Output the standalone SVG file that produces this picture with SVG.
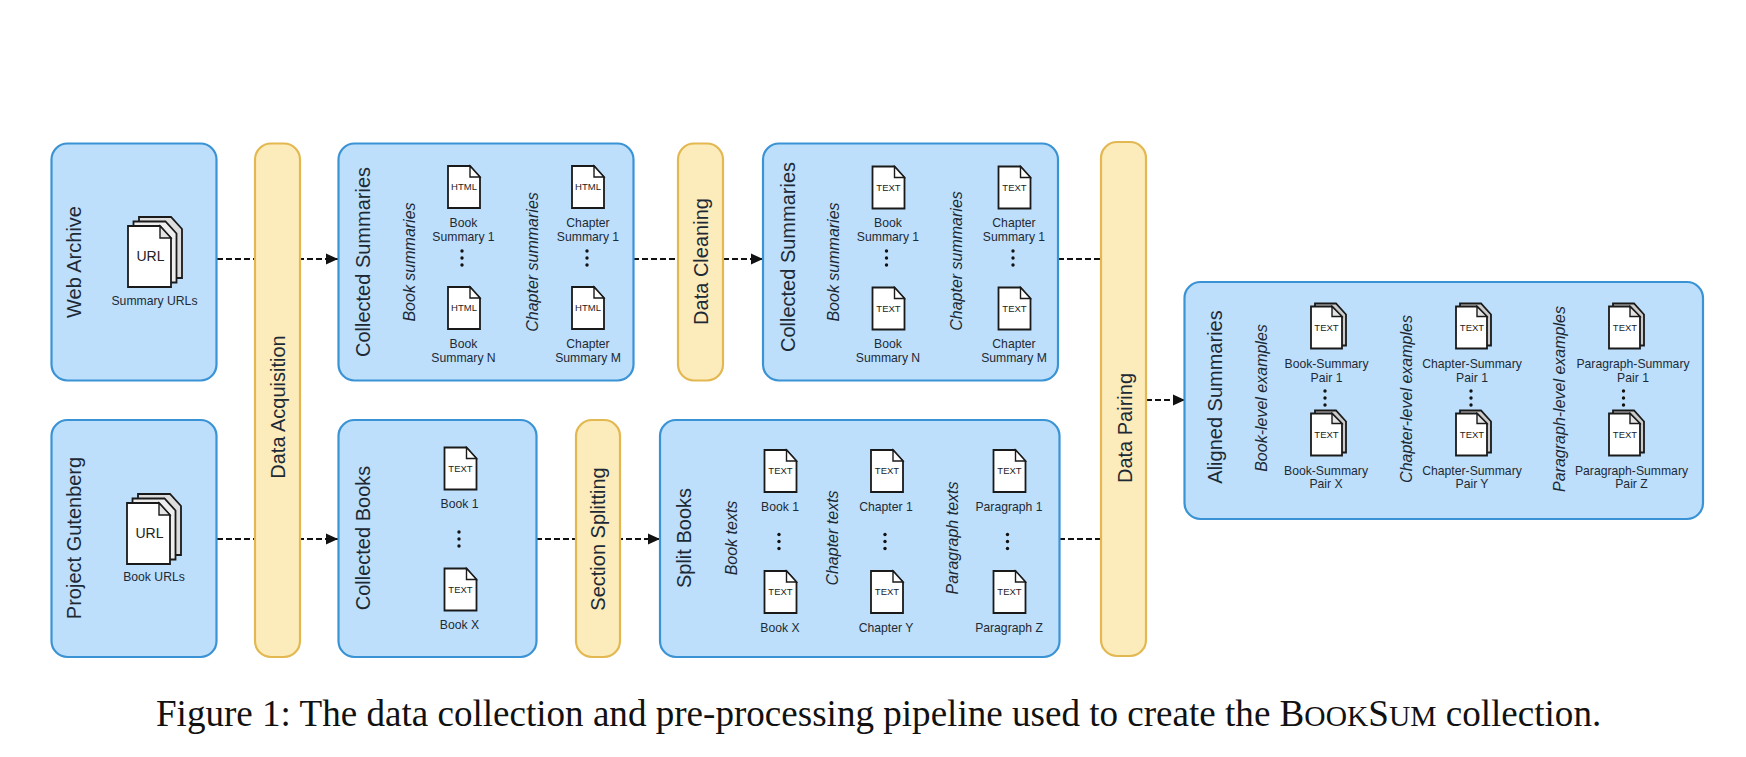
<svg xmlns="http://www.w3.org/2000/svg" width="1746" height="757" viewBox="0 0 1746 757">
<style>
text{font-family:"Liberation Sans",Arial,sans-serif;fill:#1d2a35;text-anchor:middle}
.box{fill:#bddffc;stroke:#3a93d4;stroke-width:2.2}
.bar{fill:#fcebbb;stroke:#e3b850;stroke-width:2.2}
.t{font-size:20px}
.i{font-size:16px;font-style:italic}
.s{font-size:12.2px}
.d{font-size:9.500px;fill:#222}
.u{font-size:14px;fill:#222}
.pg{fill:#fff;stroke:#1a1a1a;stroke-width:1.8}
.fold{fill:#e4e4e4;stroke:#1a1a1a;stroke-width:1.4}
.conn{fill:none;stroke:#111;stroke-width:2;stroke-dasharray:6 3}
.cap{font-family:"Liberation Serif","Times New Roman",serif;font-size:37.100px;fill:#111;text-anchor:start}
</style>
<defs>
<marker id="arr" markerUnits="userSpaceOnUse" markerWidth="13" markerHeight="12" refX="12" refY="6" orient="auto"><path d="M0 0.500L12 6L0 11.500Z" fill="#111"/></marker>
<g id="doc"><path class="pg" d="M0 0H22L32 11V42H0Z"/><path class="fold" d="M22 0V11H32Z" style="fill:#fff"/></g>
<g id="stack"><path class="pg" style="fill:#ccc" d="M4 -3H25L35 8V39H4Z"/><path class="pg" d="M0 0H21L31 10V42H0Z"/><path class="fold" d="M21 0V10H31Z"/></g>
<g id="big"><path class="pg" style="fill:#ddd" d="M11 -9H43L54 3V52H11Z"/><path class="pg" style="fill:#eee" d="M5.500 -4.500H37.500L48.500 7.500V56.500H5.500Z"/><path class="pg" d="M0 0H32L43 12V61H0Z"/><path class="fold" d="M32 0V12H43Z"/></g>
<g id="dots"><circle cy="-7" r="1.700" fill="#111"/><circle r="1.700" fill="#111"/><circle cy="7" r="1.700" fill="#111"/></g>
</defs>
<rect width="1746" height="757" fill="#fff"/>
<g id="connectors">
<path class="conn" d="M217 259H338" marker-end="url(#arr)"/>
<path class="conn" d="M217 539H338" marker-end="url(#arr)"/>
<path class="conn" d="M633 259H763" marker-end="url(#arr)"/>
<path class="conn" d="M536 539H660" marker-end="url(#arr)"/>
<path class="conn" d="M1058 259H1101"/>
<path class="conn" d="M1059 539H1101"/>
<path class="conn" d="M1146 400H1185" marker-end="url(#arr)"/>
</g>
<g id="web-archive">
<rect class="box" x="51.500" y="143.500" width="165" height="237" rx="16"/>
<text class="t" transform="translate(74,262) rotate(-90)" dy=".35em">Web Archive</text>
<use href="#big" x="128" y="226"/>
<text class="u" x="150.500" y="256.500" dy=".35em">URL</text>
<text class="s" x="154.500" y="300.500" dy=".35em">Summary URLs</text>
</g>
<g id="project-gutenberg">
<rect class="box" x="51.500" y="420" width="165" height="237" rx="16"/>
<text class="t" transform="translate(74,538) rotate(-90)" dy=".35em">Project Gutenberg</text>
<use href="#big" x="127" y="503"/>
<text class="u" x="149.500" y="533.500" dy=".35em">URL</text>
<text class="s" x="154" y="577" dy=".35em">Book URLs</text>
</g>
<g id="data-acquisition">
<rect class="bar" x="255" y="143.500" width="45" height="513.500" rx="16"/>
<text class="t" transform="translate(278,407) rotate(-90)" dy=".35em">Data Acquisition</text>
</g>
<g id="collected-summaries-html">
<rect class="box" x="338.500" y="143.500" width="295" height="237" rx="16"/>
<text class="t" transform="translate(363,262) rotate(-90)" dy=".35em">Collected Summaries</text>
<text class="i" transform="translate(409,262) rotate(-90)" dy=".35em">Book summaries</text>
<text class="i" transform="translate(532,262) rotate(-90)" dy=".35em">Chapter summaries</text>
<use href="#doc" x="448" y="166"/><text class="d" x="464" y="187" dy=".35em">HTML</text>
<use href="#doc" x="572" y="166"/><text class="d" x="588" y="187" dy=".35em">HTML</text>
<text class="s" x="463.500" y="223" dy=".35em">Book</text><text class="s" x="463.500" y="237" dy=".35em">Summary 1</text>
<text class="s" x="588" y="223" dy=".35em">Chapter</text><text class="s" x="588" y="237" dy=".35em">Summary 1</text>
<use href="#dots" x="462" y="258"/><use href="#dots" x="587" y="258"/>
<use href="#doc" x="448" y="287"/><text class="d" x="464" y="308" dy=".35em">HTML</text>
<use href="#doc" x="572" y="287"/><text class="d" x="588" y="308" dy=".35em">HTML</text>
<text class="s" x="463.500" y="344" dy=".35em">Book</text><text class="s" x="463.500" y="358" dy=".35em">Summary N</text>
<text class="s" x="588" y="344" dy=".35em">Chapter</text><text class="s" x="588" y="358" dy=".35em">Summary M</text>
</g>
<g id="data-cleaning">
<rect class="bar" x="678" y="143.500" width="45" height="237" rx="16"/>
<text class="t" transform="translate(701,261.500) rotate(-90)" dy=".35em">Data Cleaning</text>
</g>
<g id="collected-summaries-text">
<rect class="box" x="763" y="143.500" width="295" height="237" rx="16"/>
<text class="t" transform="translate(788,257) rotate(-90)" dy=".35em">Collected Summaries</text>
<text class="i" transform="translate(833,262) rotate(-90)" dy=".35em">Book summaries</text>
<text class="i" transform="translate(956.500,261) rotate(-90)" dy=".35em">Chapter summaries</text>
<use href="#doc" x="872.500" y="166.500"/><text class="d" x="888.500" y="187.500" dy=".35em">TEXT</text>
<use href="#doc" x="998.500" y="166.500"/><text class="d" x="1014.500" y="187.500" dy=".35em">TEXT</text>
<text class="s" x="888" y="223" dy=".35em">Book</text><text class="s" x="888" y="237" dy=".35em">Summary 1</text>
<text class="s" x="1014" y="223" dy=".35em">Chapter</text><text class="s" x="1014" y="237" dy=".35em">Summary 1</text>
<use href="#dots" x="886.500" y="258"/><use href="#dots" x="1013" y="258"/>
<use href="#doc" x="872.500" y="287.500"/><text class="d" x="888.500" y="308.500" dy=".35em">TEXT</text>
<use href="#doc" x="998.500" y="287.500"/><text class="d" x="1014.500" y="308.500" dy=".35em">TEXT</text>
<text class="s" x="888" y="344" dy=".35em">Book</text><text class="s" x="888" y="358" dy=".35em">Summary N</text>
<text class="s" x="1014" y="344" dy=".35em">Chapter</text><text class="s" x="1014" y="358" dy=".35em">Summary M</text>
</g>
<g id="data-pairing">
<rect class="bar" x="1101" y="142" width="45" height="514" rx="16"/>
<text class="t" transform="translate(1125,428) rotate(-90)" dy=".35em">Data Pairing</text>
</g>
<g id="collected-books">
<rect class="box" x="338.500" y="420" width="198" height="237" rx="16"/>
<text class="t" transform="translate(363,538) rotate(-90)" dy=".35em">Collected Books</text>
<use href="#doc" x="444.500" y="447.500"/><text class="d" x="460.500" y="468.500" dy=".35em">TEXT</text>
<text class="s" x="459.500" y="503.500" dy=".35em">Book 1</text>
<use href="#dots" x="459" y="539"/>
<use href="#doc" x="444.500" y="568.500"/><text class="d" x="460.500" y="589.500" dy=".35em">TEXT</text>
<text class="s" x="459.500" y="625" dy=".35em">Book X</text>
</g>
<g id="section-splitting">
<rect class="bar" x="576" y="420" width="44" height="237" rx="16"/>
<text class="t" transform="translate(598,539) rotate(-90)" dy=".35em">Section Splitting</text>
</g>
<g id="split-books">
<rect class="box" x="660" y="420" width="399.500" height="237" rx="16"/>
<text class="t" transform="translate(684,538) rotate(-90)" dy=".35em">Split Books</text>
<text class="i" transform="translate(731.500,538) rotate(-90)" dy=".35em">Book texts</text>
<text class="i" transform="translate(832,538) rotate(-90)" dy=".35em">Chapter texts</text>
<text class="i" transform="translate(952.500,538) rotate(-90)" dy=".35em">Paragraph texts</text>
<use href="#doc" x="764.500" y="450"/><text class="d" x="780.500" y="471" dy=".35em">TEXT</text>
<use href="#doc" x="871" y="450"/><text class="d" x="887" y="471" dy=".35em">TEXT</text>
<use href="#doc" x="993.500" y="450"/><text class="d" x="1009.500" y="471" dy=".35em">TEXT</text>
<text class="s" x="780" y="506.500" dy=".35em">Book 1</text>
<text class="s" x="886" y="506.500" dy=".35em">Chapter 1</text>
<text class="s" x="1009" y="506.500" dy=".35em">Paragraph 1</text>
<use href="#dots" x="779" y="541.500"/><use href="#dots" x="885" y="541.500"/><use href="#dots" x="1007.500" y="541.500"/>
<use href="#doc" x="764.500" y="571"/><text class="d" x="780.500" y="592" dy=".35em">TEXT</text>
<use href="#doc" x="871" y="571"/><text class="d" x="887" y="592" dy=".35em">TEXT</text>
<use href="#doc" x="993.500" y="571"/><text class="d" x="1009.500" y="592" dy=".35em">TEXT</text>
<text class="s" x="780" y="627.500" dy=".35em">Book X</text>
<text class="s" x="886" y="627.500" dy=".35em">Chapter Y</text>
<text class="s" x="1009" y="627.500" dy=".35em">Paragraph Z</text>
</g>
<g id="aligned-summaries">
<rect class="box" x="1184.500" y="282" width="518.500" height="237" rx="16"/>
<text class="t" transform="translate(1215,397) rotate(-90)" dy=".35em">Aligned Summaries</text>
<text class="i" transform="translate(1261.500,398) rotate(-90)" dy=".35em">Book-level examples</text>
<text class="i" transform="translate(1406.500,399) rotate(-90)" dy=".35em">Chapter-level examples</text>
<text class="i" transform="translate(1559,399) rotate(-90)" dy=".35em">Paragraph-level examples</text>
<use href="#stack" x="1311" y="306.500"/><text class="d" x="1326.500" y="328" dy=".35em">TEXT</text>
<use href="#stack" x="1456" y="306.500"/><text class="d" x="1472" y="328" dy=".35em">TEXT</text>
<use href="#stack" x="1609" y="306.500"/><text class="d" x="1625" y="328" dy=".35em">TEXT</text>
<text class="s" x="1326.500" y="364" dy=".35em">Book-Summary</text><text class="s" x="1326.500" y="377.500" dy=".35em">Pair 1</text>
<text class="s" x="1472" y="364" dy=".35em">Chapter-Summary</text><text class="s" x="1472" y="377.500" dy=".35em">Pair 1</text>
<text class="s" x="1633" y="364" dy=".35em">Paragraph-Summary</text><text class="s" x="1633" y="377.500" dy=".35em">Pair 1</text>
<use href="#dots" x="1325" y="398"/><use href="#dots" x="1471" y="398"/><use href="#dots" x="1623.500" y="398"/>
<use href="#stack" x="1311" y="413.500"/><text class="d" x="1326.500" y="435" dy=".35em">TEXT</text>
<use href="#stack" x="1456" y="413.500"/><text class="d" x="1472" y="435" dy=".35em">TEXT</text>
<use href="#stack" x="1609" y="413.500"/><text class="d" x="1625" y="435" dy=".35em">TEXT</text>
<text class="s" x="1326" y="470.500" dy=".35em">Book-Summary</text><text class="s" x="1326" y="484" dy=".35em">Pair X</text>
<text class="s" x="1472" y="470.500" dy=".35em">Chapter-Summary</text><text class="s" x="1472" y="484" dy=".35em">Pair Y</text>
<text class="s" x="1631.500" y="470.500" dy=".35em">Paragraph-Summary</text><text class="s" x="1631.500" y="484" dy=".35em">Pair Z</text>
</g>
<text class="cap" x="156" y="726" id="caption">Figure 1: The data collection and pre-processing pipeline used to create the B<tspan font-size="29.500">OOK</tspan>S<tspan font-size="29.500">UM</tspan> collection.</text>
</svg>
